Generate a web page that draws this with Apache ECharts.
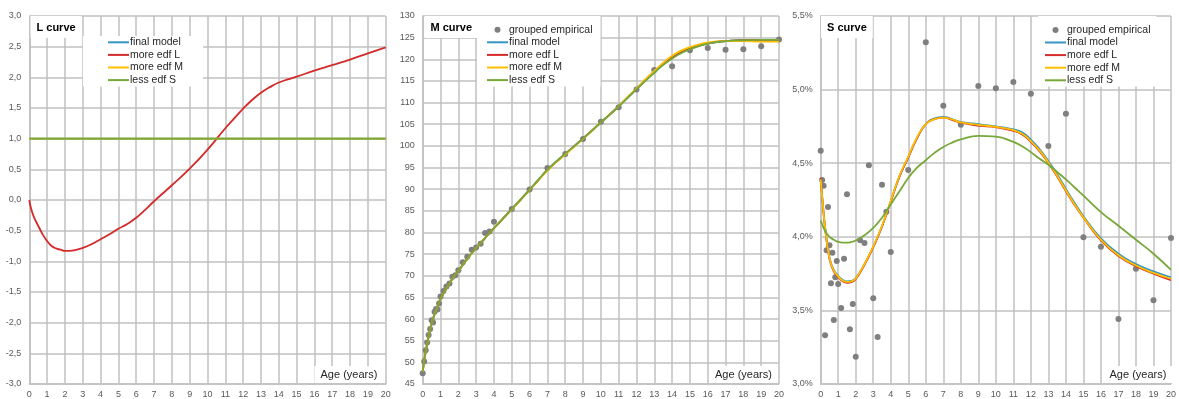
<!DOCTYPE html>
<html>
<head>
<meta charset="utf-8">
<script src="https://cdn.jsdelivr.net/npm/echarts@6/dist/echarts.min.js"></script>
<style>
  html, body { margin: 0; padding: 0; background: #fff; }
  #chart { width: 1179px; height: 399px; }
</style>
</head>
<body>
<div id="chart"></div>
<script>
// Ages (years) at which the fitted curves are sampled
const curveAges = [0, 0.1, 0.25, 0.5, 0.75, 1, 1.25, 1.5, 1.75, 2, 2.5, 3, 3.5, 4, 4.5, 5, 5.5, 6, 6.5, 7, 7.5, 8, 9, 10, 11, 11.5, 12, 12.5, 13, 13.5, 14, 14.5, 15, 16, 17, 18, 19, 20];

// Ages of the grouped empirical observations
const empAges = [0, 0.083, 0.167, 0.25, 0.333, 0.417, 0.5, 0.583, 0.667, 0.75, 0.833, 0.917, 1, 1.167, 1.333, 1.5, 1.667, 1.833, 2, 2.25, 2.5, 2.75, 3, 3.25, 3.5, 3.75, 4, 5, 6, 7, 8, 9, 10, 11, 12, 13, 14, 15, 16, 17, 18, 19, 20];

// L curve (Box-Cox power)
const lFlatAges = [0, 20];
const lFinal = [1, 1];
const lMoreM = [1, 1];
const lLessS = [1, 1];
const lMoreL = [0, -0.14, -0.27, -0.42, -0.56, -0.67, -0.75, -0.79, -0.81, -0.83, -0.82, -0.78, -0.72, -0.64, -0.56, -0.47, -0.39, -0.29, -0.16, -0.02, 0.11, 0.24, 0.51, 0.82, 1.17, 1.33, 1.49, 1.63, 1.75, 1.84, 1.915, 1.965, 2.01, 2.11, 2.20, 2.29, 2.39, 2.49];

// M curve (median, cm)
const mFinal = [47.8, 50.8, 54.2, 59.0, 62.0, 64.6, 66.5, 68.2, 69.8, 71.1, 73.9, 76.4, 78.7, 81.0, 83.2, 85.4, 87.6, 89.9, 92.2, 94.5, 96.4, 98.1, 101.7, 105.4, 109.1, 111.1, 113.1, 115.1, 117.0, 118.8, 120.3, 121.5, 122.4, 123.6, 124.2, 124.4, 124.5, 124.5];
const mMoreL = [47.8, 50.8, 54.2, 59.0, 62.0, 64.6, 66.5, 68.2, 69.8, 71.1, 73.9, 76.4, 78.7, 81.0, 83.2, 85.4, 87.6, 89.8, 92.1, 94.4, 96.3, 98.1, 101.7, 105.4, 109.2, 111.2, 113.2, 115.2, 117.1, 118.9, 120.4, 121.6, 122.5, 123.7, 124.2, 124.4, 124.5, 124.5];
const mMoreM = [47.8, 50.8, 54.2, 59.0, 62.0, 64.6, 66.5, 68.2, 69.8, 71.1, 73.9, 76.4, 78.7, 81.0, 83.2, 85.3, 87.5, 89.8, 92.1, 94.3, 96.3, 98.0, 101.6, 105.4, 109.2, 111.3, 113.3, 115.4, 117.3, 119.2, 120.8, 122.0, 122.8, 123.9, 124.2, 124.2, 124.1, 124.1];
const mLessS = [47.8, 50.8, 54.2, 59.0, 62.0, 64.6, 66.5, 68.2, 69.8, 71.1, 73.9, 76.4, 78.7, 81.0, 83.2, 85.4, 87.6, 89.9, 92.2, 94.5, 96.4, 98.2, 101.7, 105.4, 109.1, 111.1, 113.1, 115.0, 116.9, 118.7, 120.2, 121.4, 122.3, 123.6, 124.2, 124.4, 124.5, 124.5];
const mEmpirical = [47.5, 50.2, 52.8, 54.6, 56.3, 57.7, 59.7, 59.2, 61.7, 62.3, 62.2, 63.6, 65.2, 66.5, 67.5, 68.2, 69.8, 70.1, 71.3, 73.1, 74.4, 76.0, 76.5, 77.4, 79.9, 80.2, 82.5, 85.4, 89.9, 94.9, 98.1, 101.6, 105.6, 108.9, 113.0, 117.5, 118.4, 122.1, 122.6, 122.2, 122.3, 123.0, 124.6];

// S curve (coefficient of variation, %)
const sFinal = [4.39, 4.25, 4.07, 3.86, 3.775, 3.735, 3.708, 3.697, 3.70, 3.72, 3.815, 3.93, 4.07, 4.24, 4.41, 4.54, 4.67, 4.765, 4.805, 4.815, 4.80, 4.78, 4.765, 4.75, 4.73, 4.71, 4.66, 4.595, 4.515, 4.425, 4.325, 4.23, 4.14, 3.99, 3.885, 3.815, 3.765, 3.725];
const sMoreL = [4.40, 4.25, 4.06, 3.85, 3.765, 3.725, 3.698, 3.688, 3.692, 3.712, 3.81, 3.93, 4.07, 4.24, 4.41, 4.54, 4.67, 4.765, 4.80, 4.81, 4.795, 4.775, 4.755, 4.745, 4.72, 4.695, 4.645, 4.58, 4.50, 4.41, 4.31, 4.215, 4.13, 3.975, 3.87, 3.80, 3.75, 3.705];
const sMoreM = [4.39, 4.25, 4.065, 3.855, 3.77, 3.73, 3.703, 3.693, 3.697, 3.717, 3.815, 3.935, 4.075, 4.245, 4.415, 4.545, 4.675, 4.765, 4.80, 4.81, 4.797, 4.777, 4.76, 4.747, 4.725, 4.70, 4.65, 4.585, 4.505, 4.415, 4.315, 4.22, 4.132, 3.98, 3.875, 3.805, 3.755, 3.715];
const sLessS = [4.11, 4.08, 4.04, 4.00, 3.98, 3.965, 3.96, 3.96, 3.965, 3.975, 4.01, 4.06, 4.13, 4.22, 4.31, 4.40, 4.47, 4.52, 4.57, 4.61, 4.64, 4.662, 4.685, 4.68, 4.645, 4.615, 4.575, 4.53, 4.49, 4.44, 4.39, 4.335, 4.28, 4.168, 4.075, 3.98, 3.885, 3.775];
const sEmpirical = [4.585, 4.386, 4.347, 3.331, 3.908, 4.202, 3.942, 3.684, 3.892, 3.435, 3.725, 3.836, 3.679, 3.516, 3.851, 4.289, 3.372, 3.543, 3.185, 3.976, 3.958, 4.486, 3.582, 3.319, 4.354, 4.17, 3.897, 4.454, 5.321, 4.891, 4.762, 5.024, 5.009, 5.052, 4.972, 4.617, 4.836, 3.997, 3.933, 3.442, 3.783, 3.569, 3.992];

// Axis tick settings
const ageTicks = { min: 0, max: 20, interval: 1 };
const lTicks = { min: -3, max: 3, interval: 0.5 };
const mTicks = { min: 45, max: 130, interval: 5 };
const sTicks = { min: 3.0, max: 5.5, interval: 0.5 };

const modelNames = ['final model', 'more edf L', 'more edf M', 'less edf S'];
const empName = 'grouped empirical';
const colors = {
  'final model': '#3597c1',
  'more edf L': '#d42a2a',
  'more edf M': '#ffbf00',
  'less edf S': '#78a83a',
  'grouped empirical': '#7f7f7f'
};

const FONT = 'Liberation Sans, Arial, sans-serif';
const gridColor = '#c0c0c0';
const labelColor = '#595959';

const zip = (xs, ys) => xs.map((x, i) => [x, ys[i]]);
const comma = (v, d) => v.toFixed(d).replace('.', ',');

const grids = [
  { left: 29.3, top: 16, width: 356.4, height: 368 },
  { left: 422.7, top: 16, width: 356.3, height: 368.5 },
  { left: 820.7, top: 16, width: 350.5, height: 368 }
];

function xAxisFor(i) {
  return {
    type: 'value', gridIndex: i, min: ageTicks.min, max: ageTicks.max, interval: ageTicks.interval,
    axisLine: { show: true, onZero: false, lineStyle: { color: gridColor, width: 1.5 } },
    axisTick: { show: false },
    axisLabel: { color: labelColor, fontSize: 9, fontFamily: FONT, margin: 6 },
    splitLine: { show: true, lineStyle: { color: gridColor, width: 1.5 } }
  };
}
function yAxisFor(i, t, fmt) {
  return {
    type: 'value', gridIndex: i, min: t.min, max: t.max, interval: t.interval,
    axisLine: { show: true, lineStyle: { color: gridColor, width: 1.5 } },
    axisTick: { show: false },
    axisLabel: { color: labelColor, fontSize: 9, fontFamily: FONT, margin: 8, formatter: fmt },
    splitLine: { show: true, lineStyle: { color: gridColor, width: 1.5 } }
  };
}

function lineSeries(name, idx, ages, vals) {
  return {
    name, type: 'line', xAxisIndex: idx, yAxisIndex: idx,
    data: zip(ages, vals), symbol: 'none', smooth: true,
    lineStyle: { color: colors[name], width: 1.8 }, itemStyle: { color: colors[name] },
    emphasis: { disabled: true }, animation: false, z: 3
  };
}
function scatterSeries(idx, vals) {
  return {
    name: empName, type: 'scatter', xAxisIndex: idx, yAxisIndex: idx,
    data: zip(empAges, vals), symbol: 'circle', symbolSize: 6,
    itemStyle: { color: colors[empName], opacity: 1 },
    emphasis: { disabled: true }, animation: false, z: 2
  };
}

const series = [
  lineSeries('final model', 0, lFlatAges, lFinal),
  lineSeries('more edf L', 0, curveAges, lMoreL),
  lineSeries('more edf M', 0, lFlatAges, lMoreM),
  lineSeries('less edf S', 0, lFlatAges, lLessS),

  scatterSeries(1, mEmpirical),
  lineSeries('final model', 1, curveAges, mFinal),
  lineSeries('more edf L', 1, curveAges, mMoreL),
  lineSeries('more edf M', 1, curveAges, mMoreM),
  lineSeries('less edf S', 1, curveAges, mLessS),

  scatterSeries(2, sEmpirical),
  lineSeries('final model', 2, curveAges, sFinal),
  lineSeries('more edf L', 2, curveAges, sMoreL),
  lineSeries('more edf M', 2, curveAges, sMoreM),
  lineSeries('less edf S', 2, curveAges, sLessS)
];

// Legend entries: plain line swatches for the model curves, a dot for the empirical data
const modelEntries = modelNames.map(n => ({ name: n, itemStyle: { opacity: 0 } }));

function legendAt(left, top, padding, names) {
  return {
    orient: 'vertical', left, top, padding, itemGap: 0, itemWidth: 21, itemHeight: 6,
    backgroundColor: '#fff', selectedMode: false, data: names,
    textStyle: { fontSize: 10.5, fontFamily: FONT, color: '#262626', lineHeight: 12.6, padding: [0, 0, 0, -4] }
  };
}

function panelTitle(text, left) {
  return {
    text, left, top: 16, padding: [6, 6, 5, 6], backgroundColor: '#fff',
    textStyle: { fontSize: 11, fontWeight: 'bold', fontFamily: FONT, color: '#000' }
  };
}
function ageTitle(left) {
  return {
    text: 'Age (years)', left, top: 366, padding: [3, 6, 3, 6], backgroundColor: '#fff',
    textStyle: { fontSize: 11, fontWeight: 'normal', fontFamily: FONT, color: '#262626' }
  };
}

const option = {
  backgroundColor: '#fff',
  animation: false,
  title: [
    panelTitle('L curve', 30.5), panelTitle('M curve', 424.5), panelTitle('S curve', 821),
    ageTitle(314.5), ageTitle(709), ageTitle(1103.5)
  ],
  legend: [
    legendAt(83, 36, [0, 20, 0, 24], modelEntries),
    legendAt(477, 16, [7.4, 8, 0, 9], [empName].concat(modelEntries)),
    legendAt(1038, 16, [7.6, 6, 0, 6], [empName].concat(modelEntries))
  ],
  grid: grids,
  xAxis: [xAxisFor(0), xAxisFor(1), xAxisFor(2)],
  yAxis: [
    yAxisFor(0, lTicks, v => comma(v, 1)),
    yAxisFor(1, mTicks, v => String(v)),
    yAxisFor(2, sTicks, v => comma(v, 1) + '%')
  ],
  series
};

const chart = echarts.init(document.getElementById('chart'), null, { renderer: 'canvas' });
chart.setOption(option);
</script>
</body>
</html>
